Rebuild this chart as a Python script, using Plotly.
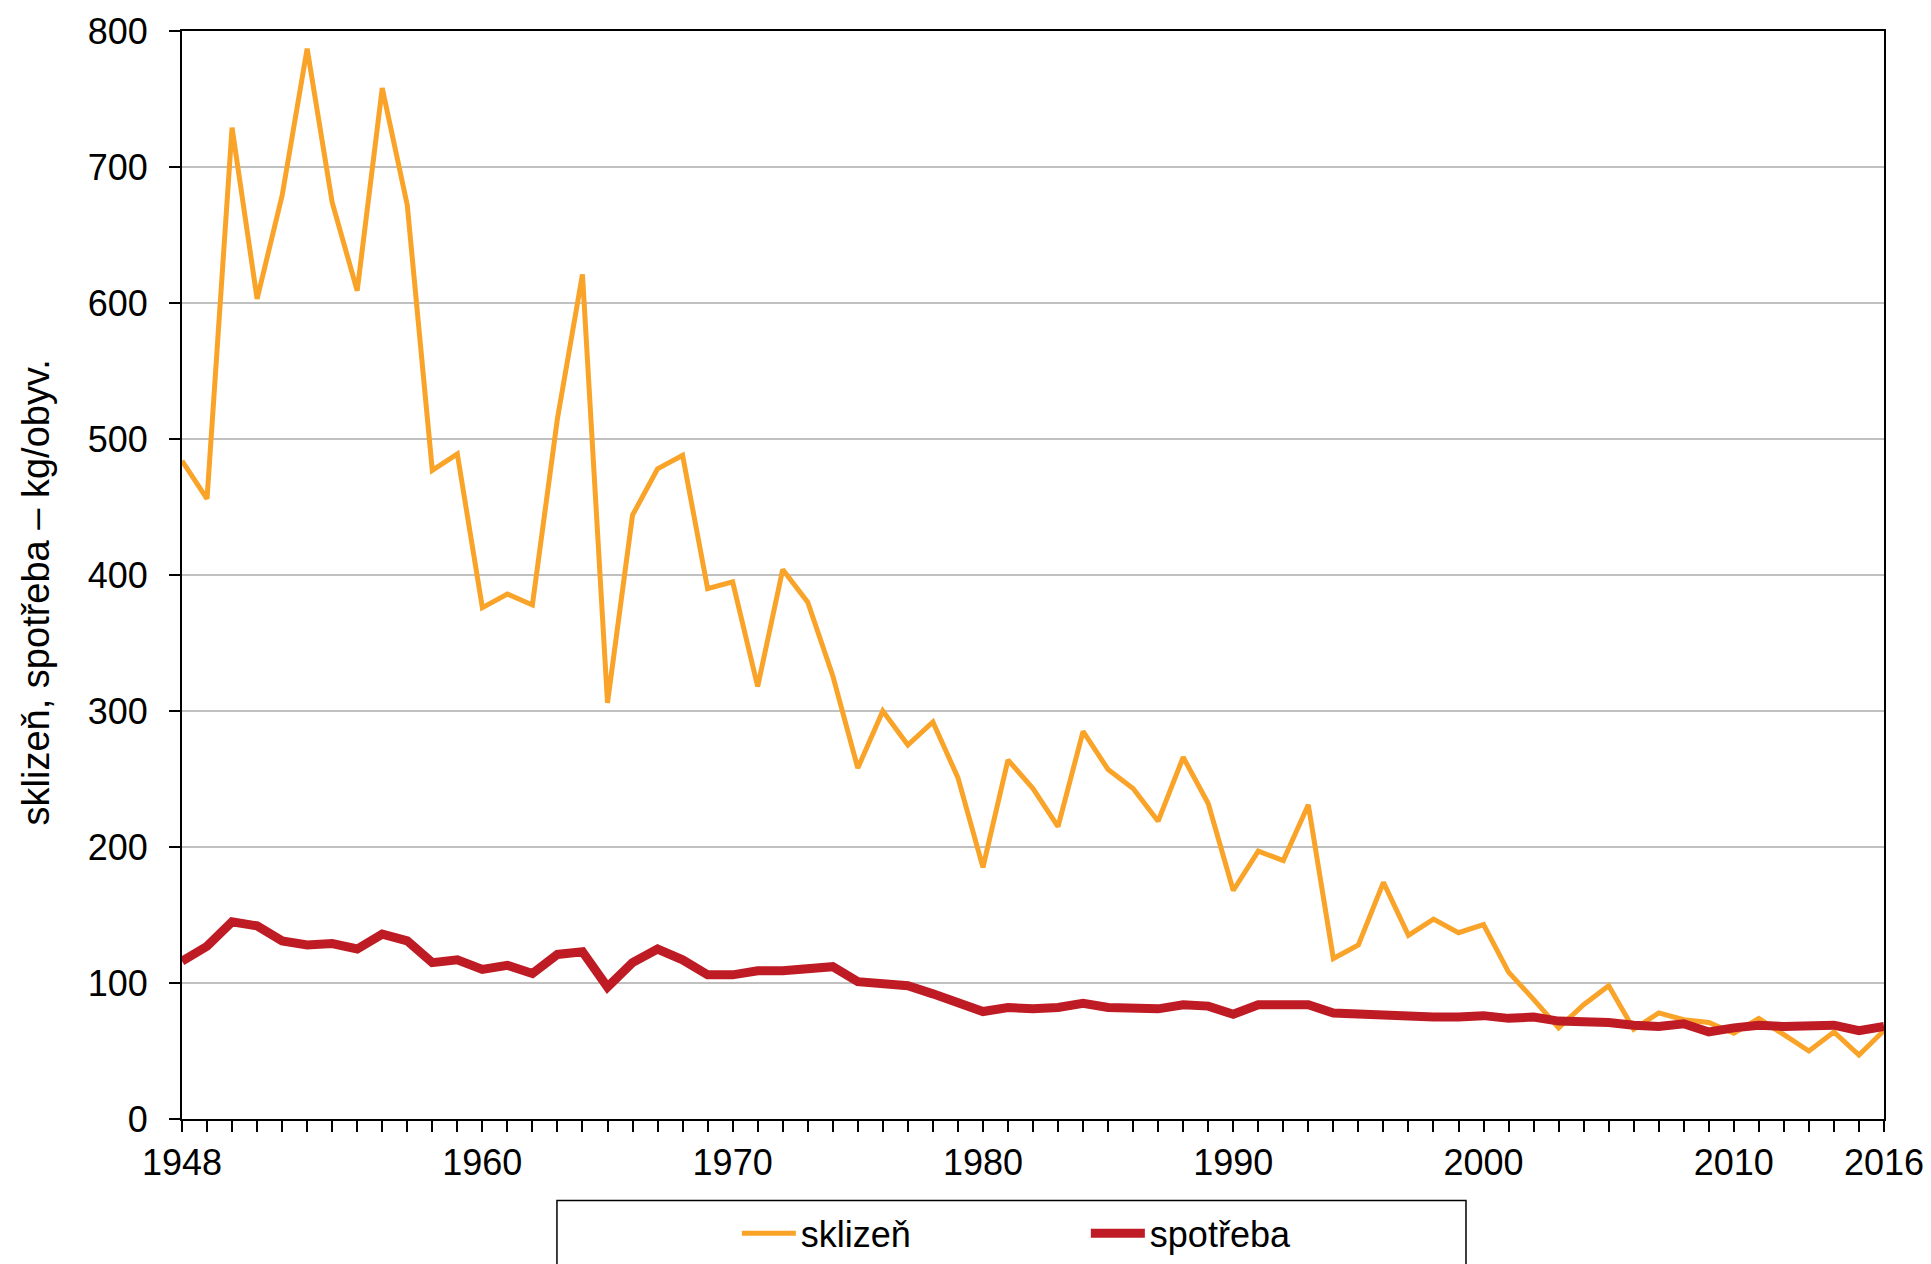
import plotly.graph_objects as go

# years 1948-2016
years = list(range(1948, 2017))

# sklizeň (harvest), kg per inhabitant
sklizen = [484, 456, 729, 603, 679, 787, 674, 609, 758, 672,
           477, 489, 376, 386, 378, 515, 621, 306, 444, 478,
           488, 390, 395, 318, 404, 380, 326, 258, 300, 275,
           292, 251, 185, 264, 243, 215, 285, 257, 243, 219,
           266, 232, 168, 197, 190, 231, 118, 128, 174, 135,
           147, 137, 143, 108, 88, 67, 84, 98, 66, 78,
           73, 71, 63, 74, 62, 50, 64, 47, 65]

# spotřeba (consumption), kg per inhabitant
spotreba = [116, 127, 145, 142, 131, 128, 129, 125, 136, 131,
            115, 117, 110, 113, 107, 121, 123, 97, 115, 125,
            117, 106, 106, 109, 109, 110, 112, 101, 100, 98,
            92, 85, 79, 82, 81, 82, 85, 82, 81, 81,
            84, 83, 77, 84, 84, 84, 78, 77, 77, 76,
            75, 75, 76, 74, 75, 72, 72, 71, 69, 68,
            70, 64, 67, 69, 68, 68, 69, 65, 68]

x_ticks = [1948, 1960, 1970, 1980, 1990, 2000, 2010, 2016]
y_ticks = [0, 100, 200, 300, 400, 500, 600, 700, 800]

FONT = 'Liberation Sans, Arial, sans-serif'

fig = go.Figure()

fig.add_trace(go.Scatter(
    x=years, y=sklizen, mode='lines', name='sklizeň',
    line=dict(color='#F9A329', width=5),
))
fig.add_trace(go.Scatter(
    x=years, y=spotreba, mode='lines', name='spotřeba',
    line=dict(color='#BE1B24', width=9),
))

# legend frame, partly cut off at the bottom of the page
fig.add_shape(
    type='rect', xref='paper', yref='paper',
    x0=0.2203, x1=0.7544, y0=-0.075, y1=-0.17,
    line=dict(color='#000000', width=1.5), fillcolor='rgba(0,0,0,0)',
)

# y axis title placed as annotation (sits a bit below the plot centre)
fig.add_annotation(
    text='sklizeň, spotřeba – kg/obyv.', textangle=-90,
    xref='paper', yref='paper', x=0, y=0.484,
    xanchor='center', yanchor='middle', xshift=-146, showarrow=False,
    font=dict(size=38),
)

# the page body has an 8px margin, so the figure is 8px smaller than the window
fig.update_layout(
    width=1923, height=1256,
    margin=dict(l=174, r=47, t=23, b=145, autoexpand=False),
    paper_bgcolor='white', plot_bgcolor='white',
    font=dict(family=FONT, size=36, color='#000000'),
    showlegend=True,
    legend=dict(
        orientation='h', x=0.326, xanchor='left', y=-0.105, yanchor='middle',
        bgcolor='rgba(0,0,0,0)', borderwidth=0,
        itemwidth=54, entrywidth=280, entrywidthmode='pixels',
        font=dict(size=36),
    ),
    xaxis=dict(
        range=[1948, 2016], tickvals=x_ticks, ticks='outside',
        ticklen=11, tickwidth=1.5, tickcolor='#000000',
        showline=True, linecolor='#000000', linewidth=2, mirror=True,
        showgrid=False, zeroline=False,
        minor=dict(dtick=1, tick0=1948, ticks='outside', ticklen=11,
                   tickwidth=1.5, tickcolor='#000000', showgrid=False),
    ),
    yaxis=dict(
        range=[0, 800], tickvals=y_ticks, ticks='outside',
        ticklen=11, tickwidth=1.5, tickcolor='#000000',
        ticklabelstandoff=14,
        showline=True, linecolor='#000000', linewidth=2, mirror=True,
        showgrid=True, gridcolor='#C0C0C0', gridwidth=1.5, zeroline=False,
    ),
)

fig.write_html("out.html")
